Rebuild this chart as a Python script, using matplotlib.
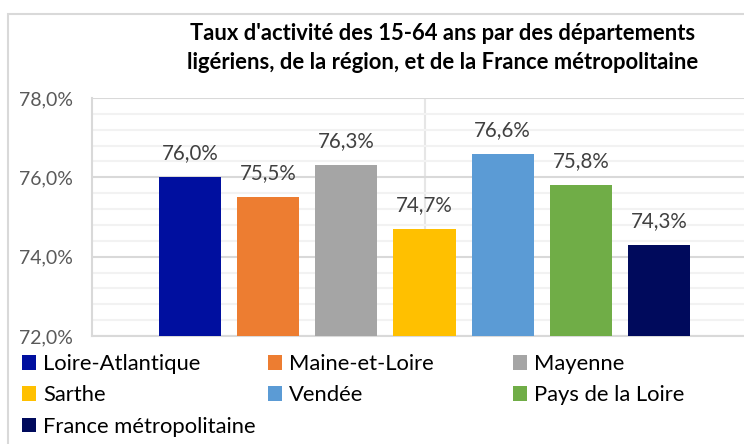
import matplotlib
matplotlib.use("Agg")
import matplotlib.pyplot as plt
from matplotlib.patches import Patch, Rectangle
from matplotlib.ticker import MultipleLocator, FuncFormatter

# donnees
categories = ["Loire-Atlantique", "Maine-et-Loire", "Mayenne", "Sarthe",
              "Vendée", "Pays de la Loire", "France métropolitaine"]
valeurs = [76.0, 75.5, 76.3, 74.7, 76.6, 75.8, 74.3]
couleurs = ["#000F9F", "#ED7D31", "#A5A5A5", "#FFC000",
            "#5B9BD5", "#70AD47", "#000A5C"]
titre = "Taux d'activité des 15-64 ans par des départements\nligériens, de la région, et de la France métropolitaine"

plt.rcParams["font.family"] = ["Lato", "DejaVu Sans"]

fig = plt.figure(figsize=(7.44, 4.44), dpi=100)
ax = fig.add_axes([92 / 744, 1 - 336 / 444, 665 / 744, 238 / 444])

x = list(range(len(categories)))
ax.bar(x, [v - 72 for v in valeurs], bottom=72, width=0.795, color=couleurs, zorder=3)

# etiquettes de valeurs
for xi, v in zip(x, valeurs):
    ax.annotate(f"{v:.1f}%".replace(".", ","), (xi, v), xytext=(0, 10),
                textcoords="offset points", ha="center", va="bottom",
                fontsize=14.8, color="#404040", zorder=4)

ax.set_xlim(-1.25, 7.25)
ax.set_ylim(72, 78)
ax.yaxis.set_major_locator(MultipleLocator(2))
ax.yaxis.set_minor_locator(MultipleLocator(0.4))
ax.yaxis.set_major_formatter(FuncFormatter(lambda v, p: f"{v:.1f}%".replace(".", ",")))
ax.grid(axis="y", which="major", color="#D9D9D9", lw=1.5, zorder=1)
ax.grid(axis="y", which="minor", color="#F2F2F2", lw=1.5, zorder=0)
ax.axvline(x[len(x) // 2], color="#E6E6E6", lw=1.5, zorder=0)
ax.set_xticks([])
ax.tick_params(axis="y", which="both", length=0, pad=14, labelsize=14, labelcolor="#595959")
for s in ["top", "right"]:
    ax.spines[s].set_visible(False)
ax.spines["left"].set_color("#D9D9D9")
ax.spines["bottom"].set_color("#D9D9D9")
ax.spines["left"].set_linewidth(1.5)
ax.spines["bottom"].set_linewidth(1.5)

fig.text(443 / 744, 1 - 48 / 444, titre, ha="center", va="center",
         fontsize=15.8, fontweight="bold", color="#000000", linespacing=1.45)

# legende en trois colonnes
colonnes = [[0, 3, 6], [1, 4], [2, 5]]
positions = [22, 268, 513]
for col, px in zip(colonnes, positions):
    handles = [Patch(facecolor=couleurs[i], edgecolor="none") for i in col]
    labels = [categories[i] for i in col]
    fig.legend(handles, labels, loc="upper left",
               bbox_to_anchor=(px / 744, 1 - 354 / 444), frameon=False,
               fontsize=15.8, handlelength=0.65, handleheight=0.65,
               handletextpad=0.3, labelspacing=0.52, borderaxespad=0,
               borderpad=0)

fig.patches.append(Rectangle((8 / 744, -0.1), 1.2, 1.1 - 14 / 444,
                             transform=fig.transFigure, fill=False,
                             edgecolor="#D9D9D9", lw=1.5))

fig.savefig("out.png", dpi=100)
